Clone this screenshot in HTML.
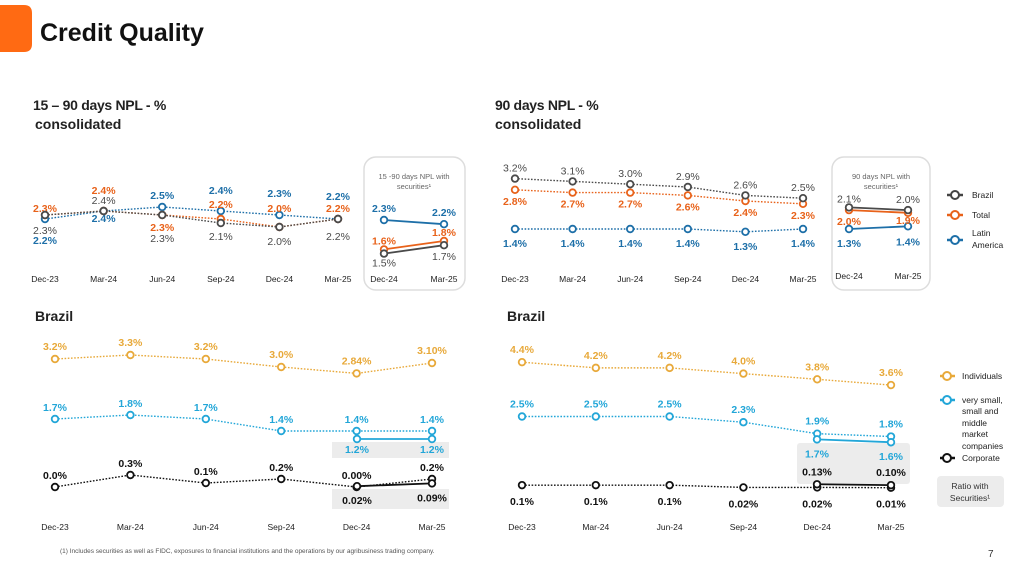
<!DOCTYPE html>
<html><head><meta charset="utf-8"><style>
html,body{margin:0;padding:0;background:#fff;}
svg{display:block;font-family:"Liberation Sans",sans-serif;}
</style></head><body>
<svg id="s" width="1019" height="573" viewBox="0 0 1019 573">
<path d="M0 5 H24 Q32 5 32 13 V44 Q32 52 24 52 H0 Z" fill="#ff6a13"/>
<text x="40" y="41" font-size="25" font-weight="bold" fill="#111">Credit Quality</text>
<text x="33" y="110" font-size="14" font-weight="bold" fill="#222" letter-spacing="-0.3">15 – 90 days NPL - %</text>
<text x="35" y="129" font-size="14" font-weight="bold" fill="#222">consolidated</text>
<text x="495" y="110" font-size="14" font-weight="bold" fill="#222" letter-spacing="-0.3">90 days NPL - %</text>
<text x="495" y="129" font-size="14" font-weight="bold" fill="#222">consolidated</text>
<text x="35" y="321" font-size="14" font-weight="bold" fill="#222">Brazil</text>
<text x="507" y="321" font-size="14" font-weight="bold" fill="#222">Brazil</text>
<rect x="364" y="157" width="101" height="133" rx="12" fill="none" stroke="#ddd" stroke-width="1.5"/>
<text x="414" y="179" font-size="7.5" fill="#666" text-anchor="middle">15 -90 days NPL with</text>
<text x="414" y="189" font-size="7.5" fill="#666" text-anchor="middle">securities¹</text>
<rect x="832" y="157" width="98" height="133" rx="12" fill="none" stroke="#ddd" stroke-width="1.5"/>
<text x="881" y="179" font-size="7.5" fill="#666" text-anchor="middle">90 days NPL with</text>
<text x="881" y="189" font-size="7.5" fill="#666" text-anchor="middle">securities¹</text>
<rect x="332" y="442" width="117" height="16" fill="#ececec"/>
<rect x="332" y="489" width="117" height="20" fill="#ececec"/>
<rect x="797" y="443" width="113" height="41" rx="3" fill="#ececec"/>
<g>
<g><line x1="947" y1="195" x2="963" y2="195" stroke="#444" stroke-width="2.5"/><circle cx="955" cy="195" r="4" fill="#fff" stroke="#444" stroke-width="2"/><text x="972" y="198" font-size="8.5" fill="#222">Brazil</text></g>
<g><line x1="947" y1="215" x2="963" y2="215" stroke="#e8621a" stroke-width="2.5"/><circle cx="955" cy="215" r="4" fill="#fff" stroke="#e8621a" stroke-width="2"/><text x="972" y="218" font-size="8.5" fill="#222">Total</text></g>
<g><line x1="947" y1="240" x2="963" y2="240" stroke="#1d6fa8" stroke-width="2.5"/><circle cx="955" cy="240" r="4" fill="#fff" stroke="#1d6fa8" stroke-width="2"/><text x="972" y="236" font-size="8.5" fill="#222">Latin</text><text x="972" y="248" font-size="8.5" fill="#222">America</text></g>
</g>
<g>
<g><line x1="940" y1="376" x2="955" y2="376" stroke="#e8a93a" stroke-width="2.5"/><circle cx="947" cy="376" r="4" fill="#fff" stroke="#e8a93a" stroke-width="2"/><text x="962" y="379" font-size="8.5" fill="#222">Individuals</text></g>
<g><line x1="940" y1="400" x2="955" y2="400" stroke="#22a6d8" stroke-width="2.5"/><circle cx="947" cy="400" r="4" fill="#fff" stroke="#22a6d8" stroke-width="2"/>
<text x="962" y="403" font-size="8.5" fill="#222">very small,</text><text x="962" y="414" font-size="8.5" fill="#222">small and</text><text x="962" y="426" font-size="8.5" fill="#222">middle</text><text x="962" y="437" font-size="8.5" fill="#222">market</text><text x="962" y="449" font-size="8.5" fill="#222">companies</text></g>
<g><line x1="940" y1="458" x2="955" y2="458" stroke="#111" stroke-width="2.5"/><circle cx="947" cy="458" r="4" fill="#fff" stroke="#111" stroke-width="2"/><text x="962" y="461" font-size="8.5" fill="#222">Corporate</text></g>
<rect x="937" y="476" width="67" height="31" rx="4" fill="#ececec"/>
<text x="970" y="489" font-size="8.5" fill="#333" text-anchor="middle">Ratio with</text>
<text x="970" y="501" font-size="8.5" fill="#333" text-anchor="middle">Securities¹</text>
</g>
<text x="60" y="553" font-size="6.5" fill="#555">(1) Includes securities as well as FIDC, exposures to financial institutions and the operations by our agribusiness trading company.</text>
<text x="988" y="557" font-size="10" fill="#333">7</text>
<g id="plots"></g>
</svg>
<script>
// ---- data ----
const periods = ["Dec-23","Mar-24","Jun-24","Sep-24","Dec-24","Mar-25"];
const insetPeriods = ["Dec-24","Mar-25"];
// 15-90 days consolidated
const npl1590Brazil = [2.3,2.4,2.3,2.1,2.0,2.2];
const npl1590Total = [2.3,2.4,2.3,2.2,2.0,2.2];
const npl1590Latam = [2.2,2.4,2.5,2.4,2.3,2.2];
const npl1590BrazilLabels = ["2.3%","2.4%","2.3%","2.1%","2.0%","2.2%"];
const npl1590TotalLabels = ["2.3%","2.4%","2.3%","2.2%","2.0%","2.2%"];
const npl1590LatamLabels = ["2.2%","2.4%","2.5%","2.4%","2.3%","2.2%"];
const npl1590SecBrazil = [1.5,1.7];
const npl1590SecTotal = [1.6,1.8];
const npl1590SecLatam = [2.3,2.2];
// 90 days consolidated
const npl90Brazil = [3.2,3.1,3.0,2.9,2.6,2.5];
const npl90Total = [2.8,2.7,2.7,2.6,2.4,2.3];
const npl90Latam = [1.4,1.4,1.4,1.4,1.3,1.4];
const npl90SecBrazil = [2.1,2.0];
const npl90SecTotal = [2.0,1.9];
const npl90SecLatam = [1.3,1.4];
// Brazil 15-90
const br1590Individuals = [3.2,3.3,3.2,3.0,2.84,3.10];
const br1590IndividualsLabels = ["3.2%","3.3%","3.2%","3.0%","2.84%","3.10%"];
const br1590Sme = [1.7,1.8,1.7,1.4,1.4,1.4];
const br1590Corporate = [0.0,0.3,0.1,0.2,0.00,0.2];
const br1590CorporateLabels = ["0.0%","0.3%","0.1%","0.2%","0.00%","0.2%"];
const br1590SecSme = [1.2,1.2];
const br1590SecCorporate = [0.02,0.09];
const br1590SecCorporateLabels = ["0.02%","0.09%"];
// Brazil 90
const br90Individuals = [4.4,4.2,4.2,4.0,3.8,3.6];
const br90Sme = [2.5,2.5,2.5,2.3,1.9,1.8];
const br90Corporate = [0.1,0.1,0.1,0.02,0.02,0.01];
const br90CorporateLabels = ["0.1%","0.1%","0.1%","0.02%","0.02%","0.01%"];
const br90SecSme = [1.7,1.6];
const br90SecCorporate = [0.13,0.10];
const br90SecCorporateLabels = ["0.13%","0.10%"];

const NS="http://www.w3.org/2000/svg";
const root=document.getElementById('plots');
function mk(tag,attrs,parent){const e=document.createElementNS(NS,tag);for(const k in attrs)e.setAttribute(k,attrs[k]);(parent||root).appendChild(e);return e;}
function fmt(v){return v.toFixed(1)+"%";}

// axis functions
const xTop1=i=>45+i*58.6, yTop1=v=>219-(v-2.2)*40;
const xIn1=i=>384+i*60, yIn1=v=>241-(v-1.8)*42;
const xTop2=i=>515+i*57.6, yTop2=v=>229-(v-1.4)*28;
const xIn2=i=>849+i*59, yIn2=v=>229-(v-1.3)*27;
const xBot1=i=>55+i*75.4, yBot1=v=>487-v*40;
const xBot2=i=>522+i*73.8, yBot2=v=>488-v*28.6;
const xBot1s=i=>357+i*75, xBot2s=i=>817+i*74;

function series(name,vals,xf,yf,color,dotted,labels,dys,fw){
  const g=mk('g',{});
  
  
  const pts=vals.map((v,i)=>[xf(i),yf(v)]);
  const ln=mk('polyline',{points:pts.map(p=>p.join(',')).join(' '),fill:'none',stroke:color,'stroke-width':dotted?1.4:1.8,'stroke-dasharray':dotted?'1.6 1.6':'none'},g);
  
  
  pts.forEach((p,i)=>{
    const c=mk('circle',{cx:p[0],cy:p[1],r:3.3,fill:'#fff',stroke:color,'stroke-width':1.8},g);
    
    
    const dy=Array.isArray(dys)?dys[i]:dys;
    const t=mk('text',{x:p[0],y:p[1]+dy+4,'text-anchor':'middle','font-size':10.5,'font-weight':fw||'bold',fill:color},g);
    t.textContent=labels?labels[i]:fmt(vals[i]);
    
    
  });
}
function axis(name,labs,xf,y){
  labs.forEach((l,i)=>{const t=mk('text',{x:xf(i),y:y,'text-anchor':'middle','font-size':8.5,fill:'#222'});t.textContent=l;
    
    });
}
const GR='#4a4a4a',OR='#e8621a',BL='#1d6fa8',GD='#e8a93a',LB='#22a6d8',BK='#111';
// top-left
axis('x-axis-15-90',periods,xTop1,282);
series('series-15-90-latam',npl1590Latam,xTop1,yTop1,BL,true,npl1590LatamLabels,[21,7,-12,-21,-22,-23]);
series('series-15-90-total',npl1590Total,xTop1,yTop1,OR,true,npl1590TotalLabels,[-7,-21,12,-15,-19,-11]);
series('series-15-90-brazil',npl1590Brazil,xTop1,yTop1,GR,true,npl1590BrazilLabels,[15,-11,23,13,14,17],'normal');
axis('x-axis-15-90-inset',insetPeriods,xIn1,282);
series('series-15-90-sec-latam',npl1590SecLatam,xIn1,yIn1,BL,false,null,[-12,-12]);
series('series-15-90-sec-total',npl1590SecTotal,xIn1,yIn1,OR,false,null,[-9,-9]);
series('series-15-90-sec-brazil',npl1590SecBrazil,xIn1,yIn1,GR,false,null,[9,11],'normal');
// top-right
axis('x-axis-90',periods,xTop2,282);
series('series-90-latam',npl90Latam,xTop2,yTop2,BL,true,null,14);
series('series-90-total',npl90Total,xTop2,yTop2,OR,true,null,11);
series('series-90-brazil',npl90Brazil,xTop2,yTop2,GR,true,null,-11,'normal');
axis('x-axis-90-inset',insetPeriods,xIn2,279);
series('series-90-sec-latam',npl90SecLatam,xIn2,yIn2,BL,false,null,[14,15]);
series('series-90-sec-total',npl90SecTotal,xIn2,yIn2,OR,false,null,[11,7]);
series('series-90-sec-brazil',npl90SecBrazil,xIn2,yIn2,GR,false,null,[-9,-11],'normal');
// bottom-left
axis('x-axis-brazil-15-90',periods,xBot1,530);
series('series-br-15-90-individuals',br1590Individuals,xBot1,yBot1,GD,true,br1590IndividualsLabels,-13);
series('series-br-15-90-sme',br1590Sme,xBot1,yBot1,LB,true,null,-12);
series('series-br-15-90-sec-sme',br1590SecSme,xBot1s,yBot1,LB,false,null,10);
series('series-br-15-90-corporate',br1590Corporate,xBot1,yBot1,BK,true,br1590CorporateLabels,-12);
series('series-br-15-90-sec-corporate',br1590SecCorporate,xBot1s,yBot1,BK,false,br1590SecCorporateLabels,14);
// bottom-right
axis('x-axis-brazil-90',periods,xBot2,530);
series('series-br-90-individuals',br90Individuals,xBot2,yBot2,GD,true,null,-13);
series('series-br-90-sme',br90Sme,xBot2,yBot2,LB,true,null,-13);
series('series-br-90-sec-sme',br90SecSme,xBot2s,yBot2,LB,false,null,14);
series('series-br-90-corporate',br90Corporate,xBot2,yBot2,BK,true,br90CorporateLabels,16);
series('series-br-90-sec-corporate',br90SecCorporate,xBot2s,yBot2,BK,false,br90SecCorporateLabels,-13);
</script>
</body></html>
